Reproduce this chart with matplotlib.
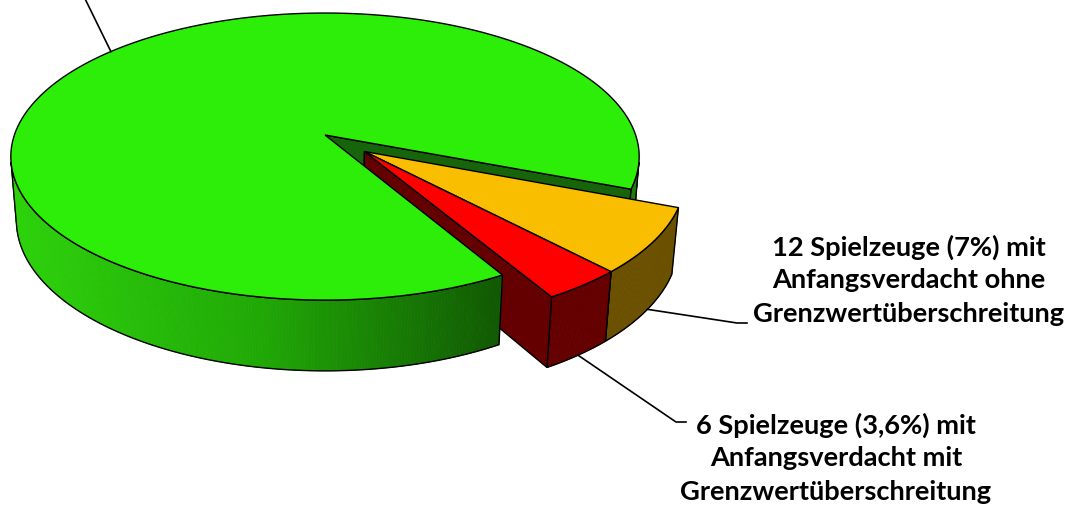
import numpy as np
import matplotlib
matplotlib.use('Agg')
import matplotlib.pyplot as plt
from matplotlib.patches import Polygon
from matplotlib.colors import LinearSegmentedColormap

# Daten (Reihenfolge im Uhrzeigersinn, wie in Excel)
counts = [149, 12, 6]
explode = [0.0, 0.17, 0.17]
top_colors = ['#2CEE08', '#F9BE00', '#FF0000']
side_colors = [None, '#6B5000', '#650000']   # None -> Verlauf
cut_colors = ['#17650A', '#6B5000', '#650000']
label_lines = [
    [],  # Beschriftung der grossen Scheibe liegt ausserhalb des Bildes
    ['12 Spielzeuge (7%) mit', 'Anfangsverdacht ohne', 'Grenzwertüberschreitung'],
    ['6 Spielzeuge (3,6%) mit', 'Anfangsverdacht mit', 'Grenzwertüberschreitung'],
]
first_angle = 299.8   # Startwinkel der ersten Scheibe, im Uhrzeigersinn

# Kamera / Projektion (Pixelkoordinaten)
CX, CY, K = 325, 135, 1845
ALPHA = np.radians(26.85)
DIST = 5.94
H = 0.232
ca, sa = np.cos(ALPHA), np.sin(ALPHA)
CAM = np.array([0.0, -DIST * ca, DIST * sa])

green_side_cmap = LinearSegmentedColormap.from_list(
    'gside', [(0, '#2DD20B'), (0.4, '#20A806'), (0.78, '#115A03'), (1.0, '#1E7D0B')])


def proj(X, Y, Z):
    depth = Y * ca - Z * sa + DIST
    up = Y * sa + Z * ca
    return CX + K * X / depth, CY - K * up / depth


def pts(xy):
    return np.column_stack(xy)


fig = plt.figure(figsize=(10.67, 5.08), dpi=100)
ax = fig.add_axes([0, 0, 1, 1])
ax.set_xlim(0, 1067)
ax.set_ylim(508, 0)
ax.axis('off')

# Winkel berechnen
spans = np.array(counts) / sum(counts) * 360
hi = first_angle - np.concatenate([[0], np.cumsum(spans)[:-1]])
lo = hi - spans

# gemeinsamer Explosionsvektor der herausgezogenen Scheiben
ex_idx = [i for i in range(len(counts)) if explode[i] > 0]
ex_mid = np.radians((hi[ex_idx].max() + lo[ex_idx].min()) / 2 - 2)
offsets = [(e * np.cos(ex_mid), e * np.sin(ex_mid)) for e in explode]

rim_x, rim_y = proj(np.cos(np.linspace(0, 2 * np.pi, 400)), np.sin(np.linspace(0, 2 * np.pi, 400)), 0)
xmin, xmax = rim_x.min(), rim_x.max()

lw = 1.0


def draw_slice(i, z_back, z_front):
    ox, oy = offsets[i]
    a0, a1 = np.radians(lo[i]), np.radians(hi[i])

    # Mantelflaeche
    n = max(int(spans[i] * 2), 8)
    th = np.linspace(a0, a1, n + 1)
    mid = (th[:-1] + th[1:]) / 2
    vis = (-ox * np.cos(mid) - 1 - (DIST * ca + oy) * np.sin(mid)) > 0
    runs = []
    j = 0
    while j < n:
        if vis[j]:
            k = j
            while k < n and vis[k]:
                k += 1
            runs.append((j, k))
            j = k
        else:
            j += 1
    for (j, k) in runs:
        t = th[j:k + 1]
        z = z_back if np.cos(t.mean()) > 0.8 and explode[i] == 0 else z_front
        tx, ty = proj(ox + np.cos(t), oy + np.sin(t), 0)
        bx, by = proj(ox + np.cos(t), oy + np.sin(t), -H)
        for m in range(len(t) - 1):
            quad = [(tx[m], ty[m]), (tx[m + 1], ty[m + 1]), (bx[m + 1], by[m + 1]), (bx[m], by[m])]
            if side_colors[i] is None:
                c = green_side_cmap((tx[m] + tx[m + 1] - 2 * xmin) / 2 / (xmax - xmin))
            else:
                c = side_colors[i]
            ax.add_patch(Polygon(quad, closed=True, fc=c, ec=c, lw=0.6, zorder=z))
        outline = np.vstack([pts((tx, ty)), pts((bx, by))[::-1]])
        ax.add_patch(Polygon(outline, closed=True, fill=False, ec='black', lw=lw, zorder=z + 0.01))

    # Schnittflaechen
    for ang, nrm in [(a0, (np.sin(a0), -np.cos(a0))), (a1, (-np.sin(a1), np.cos(a1)))]:
        P = np.array([ox + 0.5 * np.cos(ang), oy + 0.5 * np.sin(ang), -H / 2])
        d = (CAM - P)[:2] @ np.array(nrm)
        if d <= 0:
            continue
        X = [ox, ox + np.cos(ang), ox + np.cos(ang), ox]
        Y = [oy, oy + np.sin(ang), oy + np.sin(ang), oy]
        Z = [0, 0, -H, -H]
        z = z_back if explode[i] == 0 else z_front
        ax.add_patch(Polygon(pts(proj(np.array(X), np.array(Y), np.array(Z))), closed=True,
                             fc=cut_colors[i], ec='black', lw=lw, zorder=z + 0.02))

    # Deckflaeche
    t = np.linspace(a0, a1, n + 1)
    tx, ty = proj(ox + np.cos(t), oy + np.sin(t), 0)
    ax0, ay0 = proj(ox, oy, 0)
    top = np.vstack([[ax0, ay0], pts((tx, ty))])
    ax.add_patch(Polygon(top, closed=True, fc=top_colors[i], ec='black', lw=lw, zorder=z_front + 0.05))


# grosse Scheibe teilweise hinten, herausgezogene Scheiben dazwischen
draw_slice(0, 1.0, 3.0)
for i in ex_idx:
    draw_slice(i, 2.0 + 0.1 * i, 2.0 + 0.1 * i)

# Fuehrungslinien und Beschriftungen
label_pos = [(None, None), (909, 247), (836, 425)]
elbows = [None, (737, 323), (676, 422)]
line_step = 33.5
for i in range(len(counts)):
    ox, oy = offsets[i]
    bis = np.radians((lo[i] + hi[i]) / 2)
    if explode[i] == 0:
        sx, sy = proj(ox + np.cos(bis), oy + np.sin(bis), 0)
        ax.plot([sx, sx - (sy + 30) * 0.49], [sy, -30], color='black', lw=1.2, zorder=4)
        continue
    sx, sy = proj(ox + np.cos(bis), oy + np.sin(bis), -H)
    ex, ey = elbows[i]
    ax.plot([sx, ex, ex + 10], [sy, ey, ey], color='black', lw=1.2, zorder=4)
    lx, ly = label_pos[i]
    for r, line in enumerate(label_lines[i]):
        ax.text(lx, ly + r * line_step, line, ha='center', va='center', fontsize=19.6,
                fontweight='bold', family=['Lato', 'DejaVu Sans'], color='black')

fig.savefig('out.png', dpi=100)
